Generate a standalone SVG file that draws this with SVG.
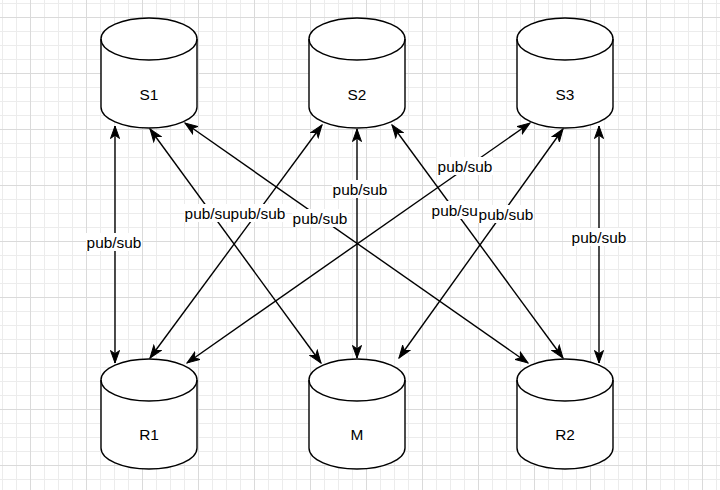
<svg xmlns="http://www.w3.org/2000/svg" width="720" height="490" viewBox="0 0 720 490">
<style>
.cyl{fill:#fff;stroke:#000;stroke-width:1.4}
.cl{fill:none;stroke:#000;stroke-width:1.4}
.nt{font-family:"Liberation Sans",Arial,sans-serif;font-size:15.4px;fill:#000;text-anchor:middle}
.edge{fill:none;stroke:#000;stroke-width:1.4;marker-start:url(#arr);marker-end:url(#arr)}
.lb{fill:#fff}
.lt{font-family:"Liberation Sans",Arial,sans-serif;font-size:15.4px;fill:#000;text-anchor:middle}
</style>
<defs>
<pattern id="grid" x="30" y="17" width="56" height="56" patternUnits="userSpaceOnUse">
<path d="M14.5,0V56M28.5,0V56M42.5,0V56M0,14.5H56M0,28.5H56M0,42.5H56" stroke="#ececec" stroke-width="1" fill="none"/>
<path d="M0.5,0V56M0,0.5H56" stroke="#dadada" stroke-width="1" fill="none"/>
</pattern>
<marker id="arr" markerUnits="userSpaceOnUse" markerWidth="14" markerHeight="11" viewBox="0 0 14 11" refX="13" refY="5.5" orient="auto-start-reverse">
<path d="M0.5,1 L13,5.5 L0.5,10 L3.8,5.5 Z" fill="#000" stroke="#000" stroke-width="1"/>
</marker>
</defs>
<rect width="720" height="490" fill="#fff"/>
<rect width="720" height="490" fill="url(#grid)"/>

<g id="connectors">
<path class="edge" d="M115,126 L115,363"/>
<path class="edge" d="M150,129 L321,363"/>
<path class="edge" d="M185,123 L528,363"/>
<path class="edge" d="M322,125 L150,358"/>
<path class="edge" d="M357,129 L357,358"/>
<path class="edge" d="M392,125 L563,358"/>
<path class="edge" d="M530,123 L187,363"/>
<path class="edge" d="M563,129 L399,358"/>
<path class="edge" d="M599,126 L599,363"/>
<g id="labels">
<rect class="lb" x="86" y="233" width="56" height="18"/><text class="lt" x="114" y="247.5">pub/sub</text>
<rect class="lb" x="184" y="204" width="56" height="18"/><text class="lt" x="212" y="218.5">pub/sub</text>
<rect class="lb" x="292" y="209" width="56" height="18"/><text class="lt" x="320" y="223.5">pub/sub</text>
<rect class="lb" x="230" y="204" width="56" height="18"/><text class="lt" x="258" y="218.5">pub/sub</text>
<rect class="lb" x="332" y="180" width="56" height="18"/><text class="lt" x="360" y="194.5">pub/sub</text>
<rect class="lb" x="431" y="201" width="56" height="18"/><text class="lt" x="459" y="215.5">pub/sub</text>
<rect class="lb" x="437" y="157" width="56" height="18"/><text class="lt" x="465" y="171.5">pub/sub</text>
<rect class="lb" x="478" y="205" width="56" height="18"/><text class="lt" x="506" y="219.5">pub/sub</text>
<rect class="lb" x="571" y="228" width="56" height="18"/><text class="lt" x="599" y="242.5">pub/sub</text>
</g>
</g>

<g id="S1">
<path class="cyl" d="M101,39 A48,21 0 0,1 197,39 L197,107 A48,21 0 0,1 101,107 Z"/>
<path class="cl" d="M101,39 A48,21 0 0,0 197,39"/>
<text class="nt" x="149" y="99.5">S1</text>
</g>
<g id="S2">
<path class="cyl" d="M309,39 A48,21 0 0,1 405,39 L405,107 A48,21 0 0,1 309,107 Z"/>
<path class="cl" d="M309,39 A48,21 0 0,0 405,39"/>
<text class="nt" x="357" y="99.5">S2</text>
</g>
<g id="S3">
<path class="cyl" d="M517,39 A48,21 0 0,1 613,39 L613,107 A48,21 0 0,1 517,107 Z"/>
<path class="cl" d="M517,39 A48,21 0 0,0 613,39"/>
<text class="nt" x="565" y="99.5">S3</text>
</g>
<g id="R1">
<path class="cyl" d="M101,380 A48,21 0 0,1 197,380 L197,448 A48,21 0 0,1 101,448 Z"/>
<path class="cl" d="M101,380 A48,21 0 0,0 197,380"/>
<text class="nt" x="149" y="440">R1</text>
</g>
<g id="M">
<path class="cyl" d="M309,380 A48,21 0 0,1 405,380 L405,448 A48,21 0 0,1 309,448 Z"/>
<path class="cl" d="M309,380 A48,21 0 0,0 405,380"/>
<text class="nt" x="357" y="440">M</text>
</g>
<g id="R2">
<path class="cyl" d="M517,380 A48,21 0 0,1 613,380 L613,448 A48,21 0 0,1 517,448 Z"/>
<path class="cl" d="M517,380 A48,21 0 0,0 613,380"/>
<text class="nt" x="565" y="440">R2</text>
</g>
</svg>
